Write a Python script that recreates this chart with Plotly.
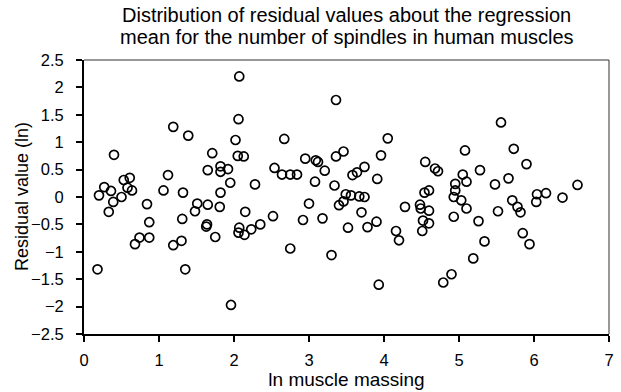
import plotly.graph_objects as go

# ln muscle massing (x) and residual value (y)
x_vals = [
    0.18, 0.20, 0.27, 0.33, 0.36, 0.39, 0.40, 0.50, 0.53, 0.58,
    0.61, 0.64, 0.68, 0.74, 0.84, 0.87, 0.87, 1.06, 1.12, 1.19,
    1.19, 1.30, 1.31, 1.32, 1.35, 1.39, 1.48, 1.51, 1.63, 1.64,
    1.65, 1.65, 1.71, 1.75, 1.81, 1.82, 1.82, 1.82, 1.92, 1.95,
    1.96, 2.02, 2.05, 2.06, 2.07, 2.06, 2.07, 2.13, 2.14, 2.15,
    2.23, 2.28, 2.35,
    2.52, 2.54, 2.64, 2.67, 2.75, 2.75, 2.84, 2.92, 2.95, 3.00,
    3.08, 3.09, 3.12, 3.18, 3.21, 3.30, 3.34, 3.36, 3.36, 3.40,
    3.46, 3.46, 3.49, 3.52, 3.56, 3.58, 3.64, 3.67, 3.70, 3.74,
    3.74, 3.78, 3.90, 3.91, 3.93, 3.96, 4.05, 4.16, 4.20, 4.28,
    4.48, 4.49, 4.52, 4.51, 4.54, 4.55, 4.60, 4.60, 4.60, 4.68,
    4.72, 4.79, 4.90, 4.93, 4.93, 4.95, 4.95, 5.03, 5.05, 5.08,
    5.10, 5.10, 5.19, 5.26, 5.28, 5.34, 5.48, 5.52, 5.56, 5.66,
    5.71, 5.73, 5.78, 5.82, 5.85, 5.90, 5.94, 6.03, 6.04, 6.16,
    6.38, 6.58,
]
y_vals = [
    -1.32, 0.03, 0.18, -0.27, 0.11, -0.09, 0.77, 0.00, 0.31, 0.17,
    0.35, 0.12, -0.86, -0.74, -0.13, -0.46, -0.74, 0.12, 0.40, 1.28,
    -0.88, -0.80, -0.40, 0.08, -1.32, 1.12, -0.26, -0.12, -0.54, -0.50,
    -0.14, 0.49, 0.80, -0.73, -0.18, 0.08, 0.46, 0.56, 0.51, 0.26,
    -1.97, 1.04, 0.75, 1.42, 2.20, -0.65, -0.56, 0.74, -0.69, -0.27,
    -0.59, 0.23, -0.50,
    -0.35, 0.53, 0.41, 1.06, 0.41, -0.94, 0.41, -0.42, 0.70, -0.12,
    0.28, 0.67, 0.64, -0.39, 0.48, -1.06, 0.21, 0.74, 1.77, -0.15,
    -0.08, 0.83, 0.05, -0.56, 0.03, 0.40, 0.45, 0.01, -0.28, 0.55,
    0.00, -0.55, -0.45, 0.33, -1.60, 0.76, 1.07, -0.62, -0.79, -0.18,
    -0.14, -0.21, -0.43, -0.62, 0.08, 0.64, 0.12, -0.25, -0.48, 0.52,
    0.47, -1.56, -1.41, 0.00, -0.36, 0.12, 0.24, -0.06, 0.41, 0.85,
    0.28, -0.21, -1.12, -0.44, 0.49, -0.81, 0.23, -0.26, 1.36, 0.34,
    -0.06, 0.88, -0.18, -0.28, -0.66, 0.60, -0.86, -0.09, 0.05, 0.07,
    -0.01, 0.22,
]

title_lines = [
    "Distribution of residual values about the regression",
    "mean for the number of spindles in human muscles",
]
x_title = "ln muscle massing"
y_title = "Residual value (ln)"
x_ticks = [0, 1, 2, 3, 4, 5, 6, 7]
y_ticks = [2.5, 2, 1.5, 1, 0.5, 0, -0.5, -1, -1.5, -2, -2.5]

FONT = "Liberation Sans, Arial, sans-serif"

fig = go.Figure(
    go.Scatter(
        x=x_vals,
        y=y_vals,
        mode="markers",
        marker=dict(symbol="circle-open", size=9, color="black",
                    line=dict(width=1.7, color="black")),
        showlegend=False,
        hoverinfo="x+y",
    )
)

fig.update_layout(
    width=621,
    height=392,
    margin=dict(l=84, r=7, t=60, b=57),
    paper_bgcolor="white",
    plot_bgcolor="white",
    font=dict(family=FONT, color="black", size=16),
    annotations=[
        dict(text=title_lines[0], xref="paper", yref="paper", x=0.5, y=1,
             xanchor="center", yanchor="bottom", yshift=32, showarrow=False,
             font=dict(size=20, family=FONT, color="black")),
        dict(text=title_lines[1], xref="paper", yref="paper", x=0.5, y=1,
             xanchor="center", yanchor="bottom", yshift=10, showarrow=False,
             font=dict(size=20, family=FONT, color="black")),
        dict(text=y_title, xref="paper", yref="paper", x=0, y=0.5,
             xanchor="center", yanchor="middle", xshift=-62, textangle=-90,
             showarrow=False, font=dict(size=18, family=FONT, color="black")),
    ],
    shapes=[
        dict(type="line", xref="x domain", yref="y domain", x0=0, x1=1, y0=1, y1=1,
             line=dict(color="#333333", width=1)),
        dict(type="line", xref="x domain", yref="y domain", x0=1, x1=1, y0=0, y1=1,
             line=dict(color="#333333", width=1)),
    ],
)

fig.update_xaxes(
    range=[0, 7],
    tickvals=x_ticks,
    showgrid=False,
    zeroline=False,
    showline=True,
    linecolor="black",
    linewidth=2,
    ticks="outside",
    ticklen=6,
    tickwidth=2,
    tickcolor="black",
    tickfont=dict(size=16.5),
    ticklabelstandoff=4,
    title=dict(text=x_title, font=dict(size=19), standoff=3),
)
fig.update_yaxes(
    range=[-2.5, 2.5],
    tickvals=y_ticks,
    showgrid=False,
    zeroline=False,
    showline=True,
    linecolor="black",
    linewidth=2,
    ticks="outside",
    ticklen=6,
    tickwidth=2,
    tickcolor="black",
    tickfont=dict(size=16.5),
    ticklabelstandoff=9,
)

fig.write_html("out.html")
